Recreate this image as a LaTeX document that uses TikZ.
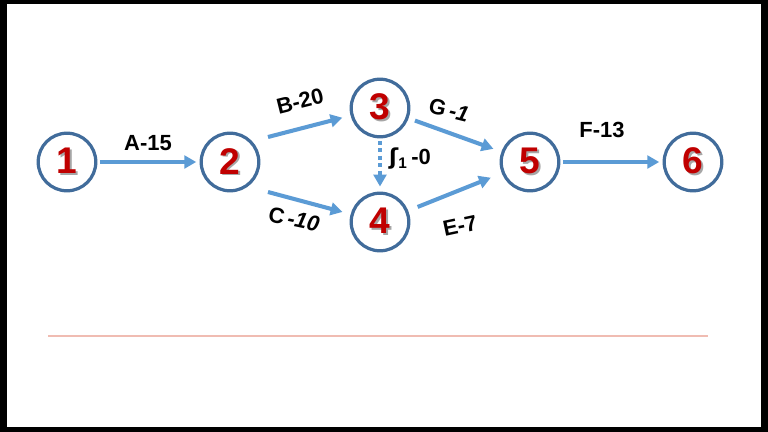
\documentclass[tikz,border=0pt]{standalone}
\usepackage{fontspec}
\setmainfont{Liberation Sans}
\newfontfamily\ipafont{DejaVu Sans}
\usepackage{xcolor}
\usetikzlibrary{positioning,arrows.meta}
\definecolor{netRing}{RGB}{65,108,155}
\definecolor{netArrow}{RGB}{91,155,213}
\definecolor{netDigit}{RGB}{192,0,0}
\definecolor{netRule}{RGB}{240,188,178}
\newcommand{\netdigit}[1]{\rlap{\kern1pt\raisebox{-1pt}{\textcolor{black!35}{#1}}}\textcolor{netDigit}{#1}}
\tikzset{
    netEvent/.style={
        circle,
        draw=netRing,
        line width=1.9pt,
        fill=white,
        minimum size=1.2cm,
        inner sep=0pt,
        font=\fontsize{22}{22}\selectfont\bfseries
    },
    % Arrows
    netArrowBase/.style={-{Triangle[length=7pt,width=7.5pt]}, line width=2.4pt, draw=netArrow, shorten >=2pt, shorten <=1.5pt},
    netSlant/.style={netArrowBase, shorten >=5pt, shorten <=4pt},
    netDummy/.style={netArrowBase, dotted, shorten >=3pt},
    netLabel/.style={font=\fontsize{13}{14}\selectfont\bfseries, inner sep=1pt}
}
\begin{document}
\begin{tikzpicture}[x=0.2083mm, y=-0.2083mm]
    \useasboundingbox (0,0) rectangle (768,432);
    \fill[black] (0,0) rectangle (768,432);
    \fill[white] (7,4) rectangle (761,427);
    \draw[netRule, line width=0.6pt] (48,336) -- (708,336);
    \foreach \i/\x/\y in {1/67/162, 2/230/162, 3/380/108, 4/380/222, 5/530/162, 6/693/162} {
        \node[netEvent] (e\i) at (\x,\y) {\netdigit{\i}};
    }
    \coordinate (b0) at (268,137);
    \coordinate (c0) at (268,192);
    \draw[netArrowBase] (e1) -- (e2);
    \draw[netSlant, shorten <=0pt] (b0) -- (e3);
    \draw[netSlant, shorten <=0pt] (c0) -- (e4);
    \draw[netDummy] (e3) -- (e4);
    \draw[netSlant] (e3) -- (e5);
    \draw[netSlant, shorten >=7pt, shorten <=6pt] (e4) -- (e5);
    \draw[netArrowBase] (e5) -- (e6);
    \node[netLabel] (lA) at (148,143) {A-15};
    \node[netLabel, rotate=14] (lB) at (300,101) {B-20};
    \node[netLabel, rotate=-12] (lC) at (294,219) {C\,\textit{-10}};
    \node[netLabel] (lD) at (410,159) {{\ipafont\bfseries ʃ}\textsubscript{1}\,-0};
    \node[netLabel, rotate=-14] (lG) at (449,110) {G\,\textit{-1}};
    \node[netLabel, rotate=12] (lE) at (460,226) {E-7};
    \node[netLabel] (lF) at (602,130) {F-13};
\end{tikzpicture}
\end{document}
